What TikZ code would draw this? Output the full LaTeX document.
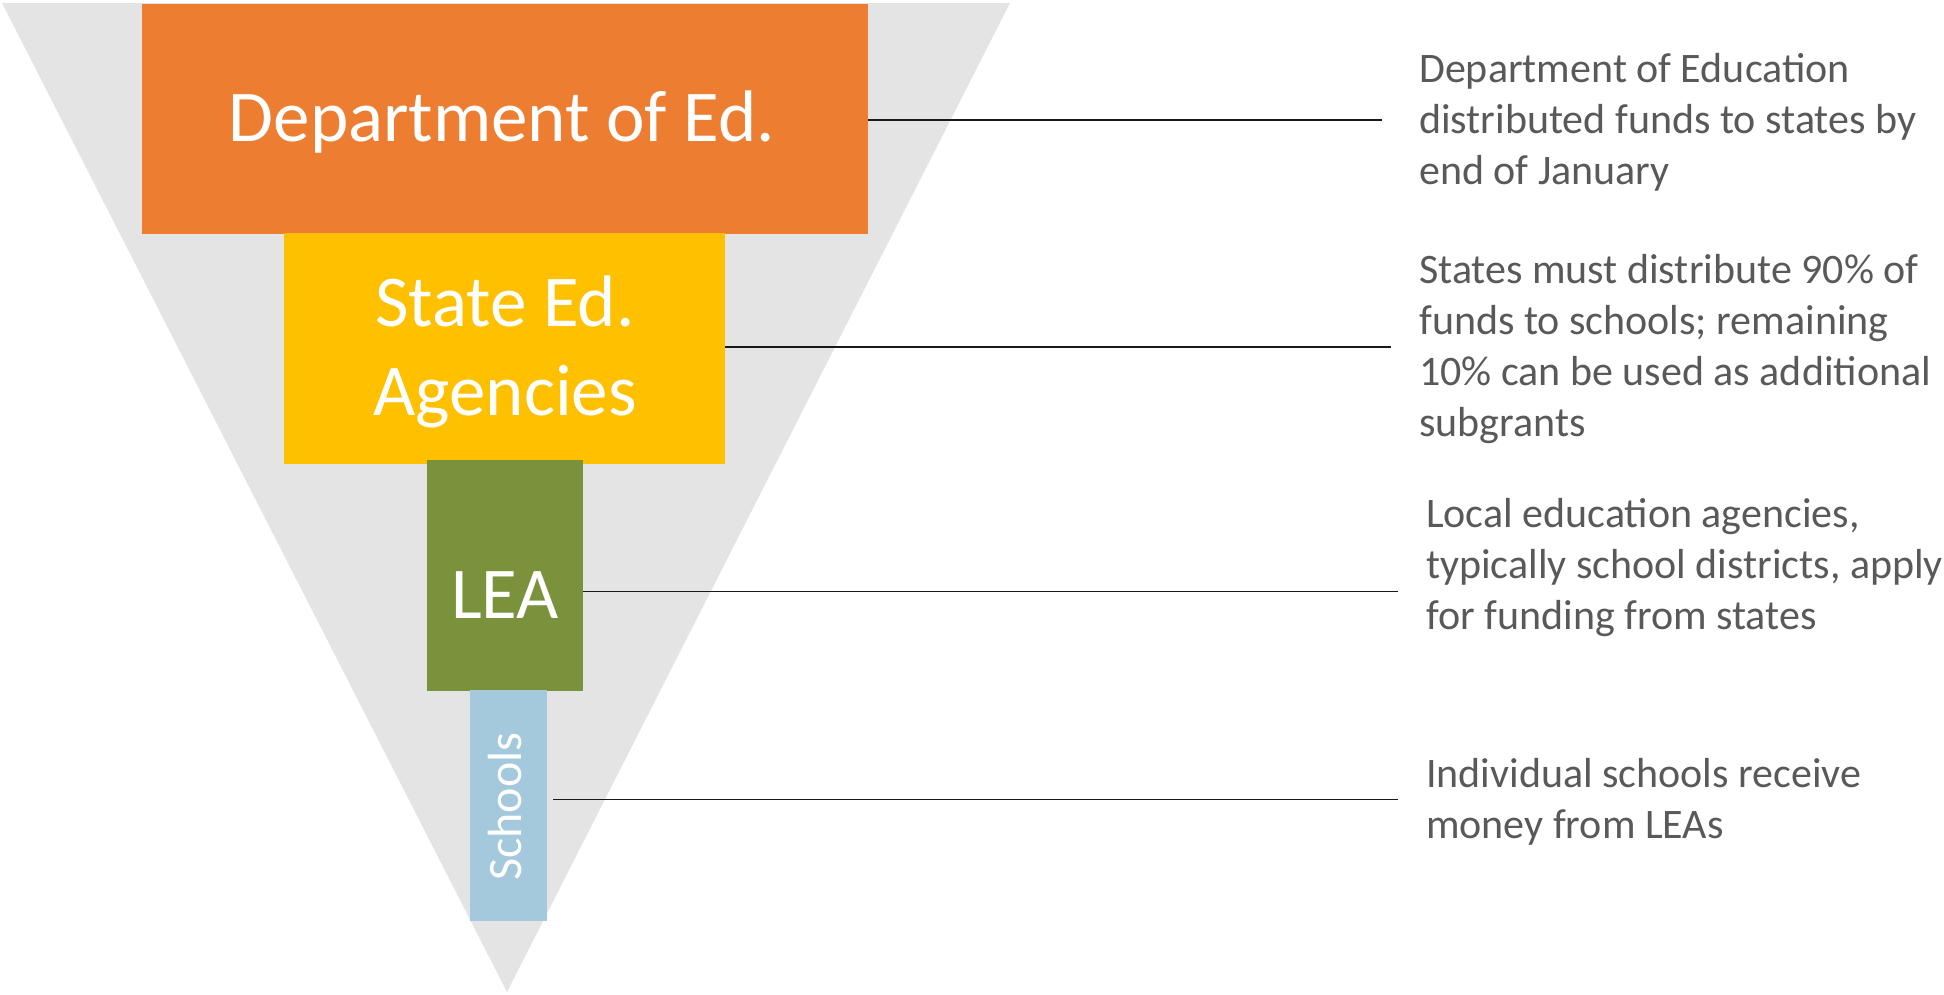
\documentclass[tikz,border=0pt]{standalone}
\usepackage{fontspec}
\setmainfont{Carlito}
\definecolor{tri}{HTML}{E4E4E4}
\definecolor{orng}{HTML}{ED7D31}
\definecolor{yell}{HTML}{FFC000}
\definecolor{olive}{HTML}{7A923C}
\definecolor{lblue}{HTML}{A4C8DC}
\definecolor{txtgray}{HTML}{595959}
\begin{document}
\begin{tikzpicture}[x=1pt,y=1pt,
  box/.style={draw=none,inner sep=0pt,outer sep=0pt},
  boxlabel/.style={inner sep=0pt,text=white,font=\fontsize{73}{88}\selectfont,anchor=base},
  desc/.style={inner sep=0pt,anchor=north west,align=left,text=txtgray,font=\fontsize{42}{51}\selectfont},
  conn/.style={draw=black!90,line width=1.6pt}]
\useasboundingbox (0,0) rectangle (1944,-994);
% funnel
\fill[tri] (2,-3) -- (1010,-3) -- (507,-992) -- cycle;
% boxes
\node[box,fill=orng,minimum width=726,minimum height=230] (dept) at (505,-119) {};
\node[box,fill=yell,minimum width=441,minimum height=231] (state) at (504.5,-348.5) {};
\node[box,fill=olive,minimum width=156,minimum height=231] (lea) at (505,-575.5) {};
\node[box,fill=lblue,minimum width=77,minimum height=231] (schools) at (508.5,-805.5) {};
% box labels
\node[boxlabel] (deptlbl) at (502,-141) {Department of Ed.};
\node[boxlabel] (statelblA) at (505,-326) {State Ed.};
\node[boxlabel] (statelblB) at (505,-415.5) {Agencies};
\node[boxlabel] (lealbl) at (505,-618) {LEA};
\node[inner sep=0pt,text=white,font=\fontsize{48}{56}\selectfont,rotate=90] (schlbl) at (505.3,-806.7) {Schools};
% descriptions
\node[desc] (d1) at (1419,-47) {\strut Department of Education\\distributed funds to states by\\end of January};
\node[desc] (d2) at (1419,-248) {\strut States must distribute 90\% of\\funds to schools; remaining\\10\% can be used as additional\\subgrants};
\node[desc] (d3) at (1426,-492) {\strut Local education agencies,\\typically school districts, apply\\for funding from states};
\node[desc] (d4) at (1426,-752) {\strut Individual schools receive\\money from LEAs};
% connector ends
\coordinate (e1) at (1382,-120);
\coordinate (e2) at (1391,-347);
\coordinate (e3) at (1398,-591.5);
\coordinate (e4) at (1398,-799.5);
\coordinate (s4) at (553,-799.5);
\draw[conn] (dept.east |- e1) -- (e1);
\draw[conn] (state.east |- e2) -- (e2);
\draw[conn] (lea.east |- e3) -- (e3);
\draw[conn] (s4) -- (e4);
\end{tikzpicture}
\end{document}
